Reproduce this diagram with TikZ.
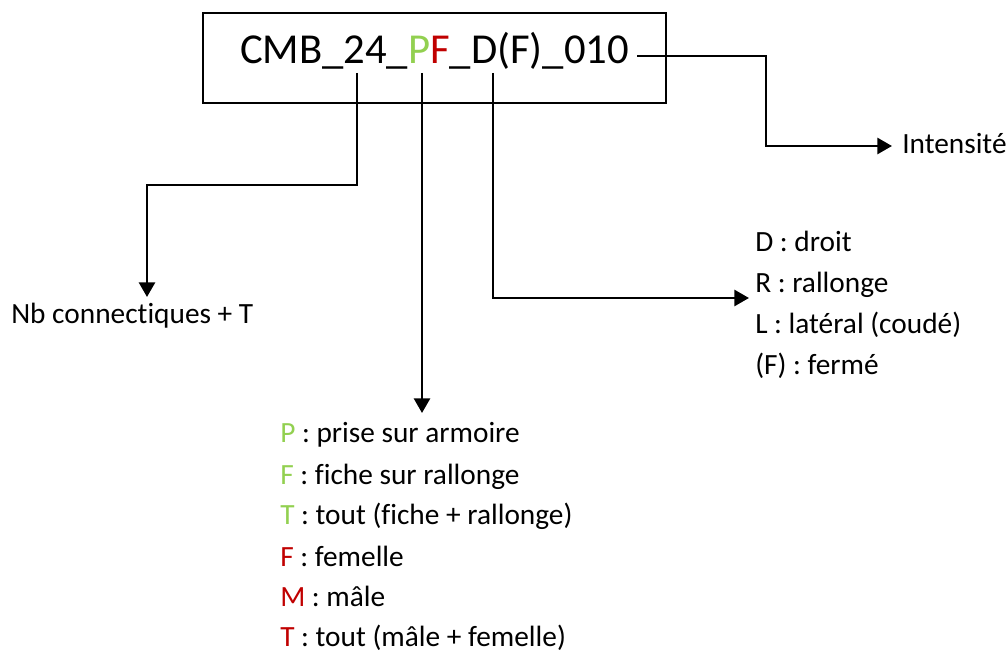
\documentclass[tikz,border=0pt]{standalone}
\usepackage{fontspec}
\setmainfont{Carlito}[Ligatures={NoCommon}]
\usetikzlibrary{arrows.meta}
\definecolor{lgreen}{HTML}{92D050}
\definecolor{dred}{HTML}{C00000}
\begin{document}
\begin{tikzpicture}[x=0.75pt,y=-0.75pt,
  conn/.style={line width=2.1pt},
  arr/.style={conn,-{Triangle[length=11pt,width=12pt]}},
  lbl/.style={font=\fontsize{22}{26}\selectfont, inner sep=0pt, anchor=base west},
  codebox/.style={draw, line width=1pt, inner sep=0pt, minimum width=347.25pt, minimum height=67.5pt}]
\useasboundingbox (0,0) rectangle (1008,652);
% main box and code
\node[codebox] (box) at (434.5,58) {};
\node[font=\fontsize{32}{38}\selectfont, inner sep=0pt, anchor=base] (code) at (434.5,64)
  {CMB\_24\_\textcolor{lgreen}{P}\textcolor{dred}{F}\_D(F)\_010};
% start points under the code
\coordinate (t1) at (357,73);
\coordinate (t2) at (422,73);
\coordinate (t3) at (493,73);
\coordinate (t4) at (637,56);
% labels
\node[lbl] (int) at (902,154) {Intensité};
\node[lbl] (nb) at (11,324) {Nb connectiques + T};
\node[lbl] (p1) at (280,443) {\textcolor{lgreen}{P} : prise sur armoire};
\node[lbl] (p2) at (280,484) {\textcolor{lgreen}{F} : fiche sur rallonge};
\node[lbl] (p3) at (280,525) {\textcolor{lgreen}{T} : tout (fiche + rallonge)};
\node[lbl] (p4) at (280,566) {\textcolor{dred}{F} : femelle};
\node[lbl] (p5) at (280,606) {\textcolor{dred}{M} : mâle};
\node[lbl] (p6) at (280,646) {\textcolor{dred}{T} : tout (mâle + femelle)};
\node[lbl] (d1) at (755,252) {D : droit};
\node[lbl] (d2) at (755,293) {R : rallonge};
\node[lbl] (d3) at (755,334) {L : latéral (coudé)};
\node[lbl] (d4) at (755,375) {(F) : fermé};
% corner / end coordinates
\coordinate (e4) at (892,146);
\coordinate (e3) at (749,298);
\coordinate (e1) at (147,297);
\coordinate (e2) at (422,413);
% connectors
\draw[arr] (t4) -- (766,56) |- (e4);
\draw[arr] (t1) -- (357,185) -| (e1);
\draw[arr] (t2) -- (e2);
\draw[arr] (t3) |- (e3);
\end{tikzpicture}
\end{document}
